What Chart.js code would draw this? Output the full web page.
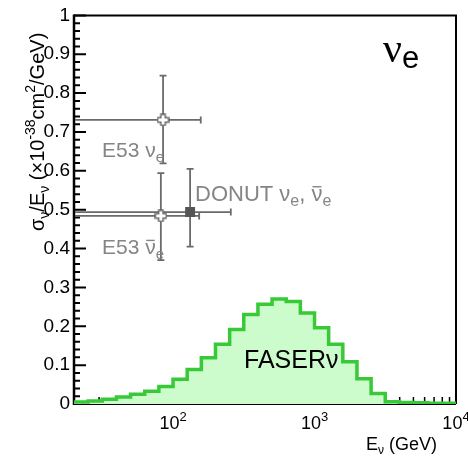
<!DOCTYPE html>
<html>
<head>
<meta charset="utf-8">
<script src="https://cdn.jsdelivr.net/npm/chart.js@4/dist/chart.umd.min.js"></script>
<style>
  html, body { margin: 0; padding: 0; background: #fff; }
  canvas { display: block; }
</style>
</head>
<body>
<canvas id="xsecChart" width="468" height="462"></canvas>
<script>
// FASERnu expected energy spectrum (bin edges in GeV, bin contents on the sigma/E scale)
const binEdges = [19.95, 25.1, 31.6, 39.8, 50.1, 63.1, 79.4, 100, 125.9, 158.5, 199.5, 251.2, 316.2,
  398.1, 501.2, 631.0, 794.3, 1000, 1258.9, 1584.9, 1995.3, 2511.9, 3162.3, 3981.1, 5011.9, 6309.6, 7943.3, 10000];
const binValues = [0.004, 0.005, 0.008, 0.012, 0.018, 0.025, 0.033, 0.045, 0.064, 0.089, 0.119, 0.154, 0.192,
  0.230, 0.257, 0.270, 0.264, 0.234, 0.196, 0.154, 0.109, 0.065, 0.027, 0.006, 0.004, 0.003, 0.002];

// measured points: E53 nu_e, E53 anti-nu_e, DONUT
const pointNames = ['E53 νe', 'E53 ν̄e', 'DONUT νe, ν̄e'];
const pointEnergy = [85, 82, 132];
const pointEnergyLow = [10, 10, 8];
const pointEnergyHigh = [157, 153, 256];
const pointSigma = [0.731, 0.484, 0.494];
const pointSigmaLow = [0.619, 0.370, 0.405];
const pointSigmaHigh = [0.845, 0.594, 0.605];

// axis ticks
const xMajorTicks = [100, 1000, 10000];
const xMajorExponents = ['2', '3', '4'];
const xMinorTicks = [20, 30, 40, 50, 60, 70, 80, 90, 200, 300, 400, 500, 600, 700, 800, 900,
  2000, 3000, 4000, 5000, 6000, 7000, 8000, 9000];

const SANS = '"Liberation Sans", Arial, sans-serif';
const SERIF = '"Liberation Serif", "Times New Roman", serif';
const GREY_BAR = '#6a6a6a';
const GREY_TEXT = '#858585';

// open cross marker (ROOT style 28)
function makeOpenCross(size, color) {
  const c = document.createElement('canvas');
  c.width = c.height = size;
  const g = c.getContext('2d');
  const m = size / 2, a = 2.2, e = size / 2 - 1;
  g.beginPath();
  g.moveTo(m - a, m - e); g.lineTo(m + a, m - e); g.lineTo(m + a, m - a);
  g.lineTo(m + e, m - a); g.lineTo(m + e, m + a); g.lineTo(m + a, m + a);
  g.lineTo(m + a, m + e); g.lineTo(m - a, m + e); g.lineTo(m - a, m + a);
  g.lineTo(m - e, m + a); g.lineTo(m - e, m - a); g.lineTo(m - a, m - a);
  g.closePath();
  g.fillStyle = '#fff';
  g.fill();
  g.lineWidth = 1.5;
  g.strokeStyle = color;
  g.stroke();
  return c;
}

// text with sub/superscripts: parts = [text, size, dy, family, overline]
function drawRich(ctx, parts, x, y, align) {
  let total = 0;
  const items = parts.map(p => {
    const it = { t: p[0], size: p[1], dy: p[2] || 0, fam: p[3] || SANS, bar: p[4] };
    ctx.font = it.size + 'px ' + it.fam;
    it.w = ctx.measureText(it.t).width;
    total += it.w;
    return it;
  });
  let cx = align === 'right' ? x - total : align === 'center' ? x - total / 2 : x;
  items.forEach(it => {
    ctx.font = it.size + 'px ' + it.fam;
    ctx.fillText(it.t, cx, y + it.dy);
    if (it.bar) {
      ctx.fillRect(cx + 1, y + it.dy - it.size * 0.68, it.w - 2, 1.4);
    }
    cx += it.w;
  });
}

const decorPlugin = {
  id: 'decor',
  beforeDatasetsDraw(chart) {
    const { ctx, chartArea: a, scales: { x, y } } = chart;
    ctx.save();
    // frame
    ctx.strokeStyle = '#000';
    ctx.lineWidth = 2;
    ctx.beginPath();
    ctx.moveTo(a.left, a.top); ctx.lineTo(a.right, a.top); ctx.lineTo(a.right, a.bottom);
    ctx.stroke();
    ctx.lineWidth = 1;
    ctx.beginPath();
    ctx.moveTo(a.left, a.bottom + 0.5); ctx.lineTo(a.right, a.bottom + 0.5);
    ctx.stroke();
    ctx.lineWidth = 2.5;
    ctx.beginPath();
    ctx.moveTo(a.left, a.top - 1); ctx.lineTo(a.left, a.bottom + 1);
    ctx.stroke();
    // y ticks (inside)
    ctx.lineWidth = 2;
    ctx.beginPath();
    for (let i = 0; i <= 50; i++) {
      const py = y.getPixelForValue(i / 50);
      const len = i % 5 === 0 ? 12 : 6;
      ctx.moveTo(a.left, py); ctx.lineTo(a.left + len, py);
    }
    ctx.stroke();
    // x ticks (inside)
    ctx.lineWidth = 1.5;
    ctx.beginPath();
    xMinorTicks.forEach(v => {
      const px = x.getPixelForValue(v);
      ctx.moveTo(px, a.bottom); ctx.lineTo(px, a.bottom - 7);
    });
    xMajorTicks.forEach(v => {
      const px = x.getPixelForValue(v);
      ctx.moveTo(px, a.bottom); ctx.lineTo(px, a.bottom - 14);
    });
    ctx.stroke();

    // error bars
    ctx.save();
    ctx.beginPath();
    ctx.rect(a.left + 1, a.top, a.right - a.left, a.bottom - a.top);
    ctx.clip();
    ctx.strokeStyle = GREY_BAR;
    ctx.lineWidth = 1.8;
    pointEnergy.forEach((e, i) => {
      const px = x.getPixelForValue(e);
      const py = y.getPixelForValue(pointSigma[i]);
      const pxL = x.getPixelForValue(pointEnergyLow[i]);
      const pxH = x.getPixelForValue(pointEnergyHigh[i]);
      const pyL = y.getPixelForValue(pointSigmaLow[i]);
      const pyH = y.getPixelForValue(pointSigmaHigh[i]);
      ctx.beginPath();
      ctx.moveTo(pxL, py); ctx.lineTo(pxH, py);
      ctx.moveTo(pxH, py - 3.5); ctx.lineTo(pxH, py + 3.5);
      ctx.moveTo(px, pyL); ctx.lineTo(px, pyH);
      ctx.moveTo(px - 3.5, pyL); ctx.lineTo(px + 3.5, pyL);
      ctx.moveTo(px - 3.5, pyH); ctx.lineTo(px + 3.5, pyH);
      ctx.stroke();
    });
    ctx.restore();
    ctx.restore();
  },
  afterDraw(chart) {
    const { ctx, chartArea: a, scales: { x } } = chart;
    ctx.save();
    ctx.textBaseline = 'alphabetic';
    ctx.fillStyle = '#000';

    // x tick labels 10^n
    xMajorTicks.forEach((v, i) => {
      const px = x.getPixelForValue(v);
      drawRich(ctx, [['10', 18], [xMajorExponents[i], 13, -8]], px, 429, 'center');
    });

    // axis titles
    drawRich(ctx, [['E', 18], ['ν', 12, 4], [' (GeV)', 18]], 437, 450, 'right');
    ctx.save();
    ctx.translate(44, 231);
    ctx.rotate(-Math.PI / 2);
    drawRich(ctx, [
      ['σ', 20], ['ν', 14, 5], ['/E', 20], ['ν', 14, 5], [' (×10', 20], ['-38', 14, -9],
      ['cm', 20], ['2', 14, -9], ['/GeV)', 20]
    ], 0, 0, 'left');
    ctx.restore();

    // annotations
    ctx.fillStyle = GREY_TEXT;
    drawRich(ctx, [['E53 ν', 21], ['e', 15, 5]], 102, 157, 'left');
    drawRich(ctx, [['E53 ', 21], ['ν', 21, 0, SANS, true], ['e', 15, 5]], 102, 254, 'left');
    drawRich(ctx, [['DONUT ν', 22], ['e', 16, 5], [', ', 22], ['ν', 22, 0, SANS, true], ['e', 16, 5]], 195, 201, 'left');

    ctx.fillStyle = '#000';
    drawRich(ctx, [['ν', 42, 0, SERIF], ['e', 31, 6]], 383, 62, 'left');
    drawRich(ctx, [['FASERν', 25]], 244, 368, 'left');
    ctx.restore();
  }
};

const histData = binEdges.map((e, i) => ({ x: e, y: binValues[Math.min(i, binValues.length - 1)] }));
const e53Data = [0, 1].map(i => ({ x: pointEnergy[i], y: pointSigma[i] }));
const donutData = [{ x: pointEnergy[2], y: pointSigma[2] }];

new Chart(document.getElementById('xsecChart'), {
  type: 'line',
  data: {
    datasets: [
      {
        label: 'E53',
        data: e53Data,
        showLine: false,
        pointStyle: makeOpenCross(13, GREY_BAR),
        pointRadius: 6,
        pointHoverRadius: 6
      },
      {
        label: 'DONUT',
        data: donutData,
        showLine: false,
        pointStyle: 'rect',
        pointRadius: 7,
        pointHoverRadius: 7,
        backgroundColor: '#555',
        borderColor: '#555',
        borderWidth: 0
      },
      {
        label: 'FASERnu',
        data: histData,
        stepped: 'after',
        borderColor: '#38c938',
        borderWidth: 3.5,
        backgroundColor: '#ccfccc',
        fill: 'origin',
        pointRadius: 0,
        tension: 0
      }
    ]
  },
  options: {
    responsive: false,
    devicePixelRatio: 1,
    animation: false,
    events: [],
    layout: { padding: { top: 10, right: 12, left: 0, bottom: 0 } },
    plugins: {
      legend: { display: false },
      tooltip: { enabled: false },
      title: { display: false }
    },
    scales: {
      x: {
        type: 'logarithmic',
        min: 19.95,
        max: 10000,
        grid: { display: false },
        border: { display: false },
        ticks: { display: false },
        afterFit(scale) { scale.height = 58; }
      },
      y: {
        min: 0,
        max: 1,
        grid: { display: false, drawTicks: false },
        border: { display: false },
        ticks: {
          stepSize: 0.1,
          padding: 4,
          color: '#000',
          font: { family: SANS, size: 19 },
          callback: v => (Math.abs(v) < 1e-9 ? '0' : Math.abs(v - 1) < 1e-9 ? '1' : v.toFixed(1))
        },
        afterFit(scale) { scale.width = 74; }
      }
    }
  },
  plugins: [decorPlugin]
});
</script>
</body>
</html>
